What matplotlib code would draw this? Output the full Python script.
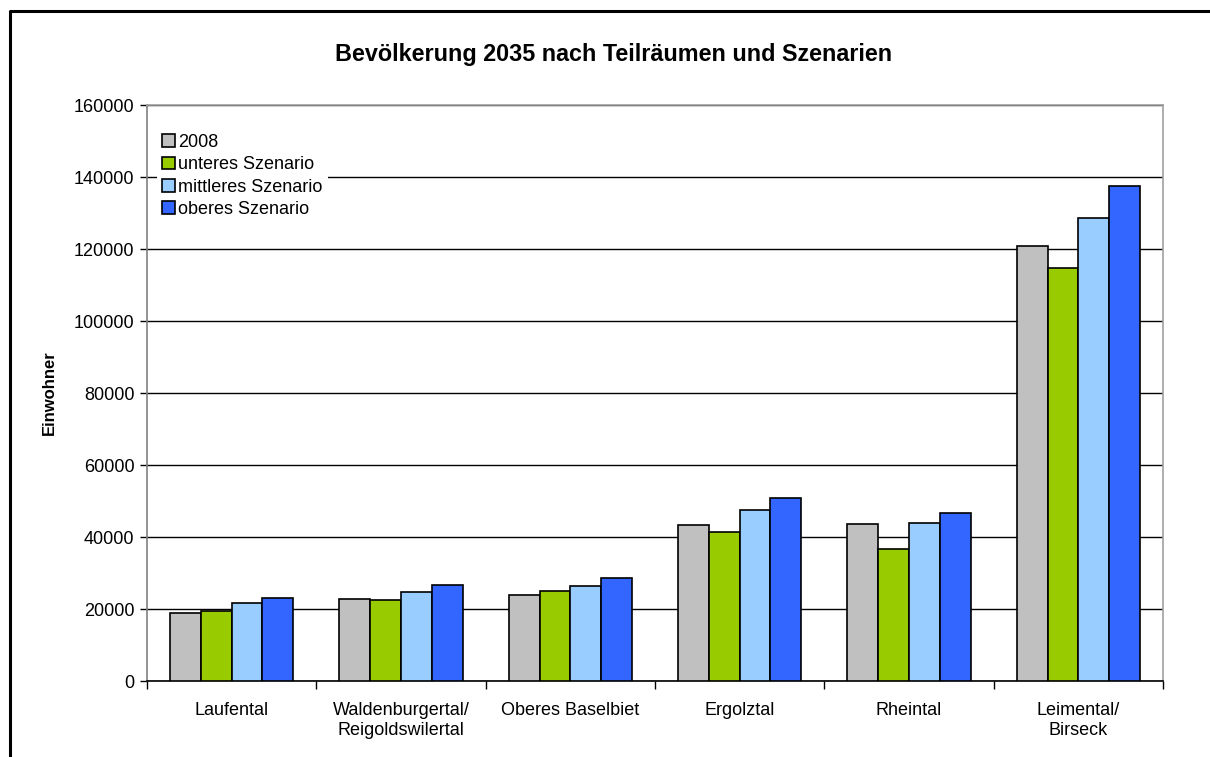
import numpy as np
import matplotlib
matplotlib.use("Agg")
import matplotlib.pyplot as plt
from matplotlib.lines import Line2D

plt.rcParams['font.family'] = ['Liberation Sans', 'DejaVu Sans']

# Daten
regions = ['Laufental', 'Waldenburgertal/\nReigoldswilertal', 'Oberes Baselbiet',
           'Ergolztal', 'Rheintal', 'Leimental/\nBirseck']
series_names = ['2008', 'unteres Szenario', 'mittleres Szenario', 'oberes Szenario']
pop_2008 = [18900, 22900, 23800, 43200, 43700, 120800]
pop_unteres = [19500, 22600, 24900, 41300, 36800, 114800]
pop_mittleres = [21600, 24600, 26300, 47600, 44000, 128600]
pop_oberes = [23000, 26700, 28700, 50700, 46700, 137400]
colors = ['#c0c0c0', '#99cc00', '#99ccff', '#3366ff']
yticks = [0, 20000, 40000, 60000, 80000, 100000, 120000, 140000, 160000]

W, H = 1210, 757
fig = plt.figure(figsize=(W / 100, H / 100), dpi=100)
ax = fig.add_axes([147 / W, 1 - 681 / H, (1163 - 147) / W, (681 - 105) / H])

x = np.arange(len(regions))
bw = 0.182
all_series = [pop_2008, pop_unteres, pop_mittleres, pop_oberes]
for i, (vals, name, c) in enumerate(zip(all_series, series_names, colors)):
    ax.bar(x + (i - 1.5) * bw, vals, width=bw, color=c, edgecolor='black',
           linewidth=1.2, label=name, zorder=3)

ax.set_xlim(-0.5, len(regions) - 0.5)
ax.set_ylim(0, 160000)
ax.set_yticks(yticks)
ax.set_yticklabels([str(v) for v in yticks], fontsize=13)
ax.yaxis.grid(True, color='black', linewidth=1.0, zorder=0)
ax.set_axisbelow(True)

ax.set_xticks(x)
ax.set_xticklabels(regions, fontsize=13, linespacing=1.25)
ax.tick_params(axis='x', length=0, pad=15)
ax.set_xticks(np.arange(-0.5, len(regions)), minor=True)
ax.tick_params(axis='x', which='minor', length=6, color='black', width=1)
ax.tick_params(axis='y', length=5, color='black', width=1, pad=4)

ax.spines['left'].set_color('#808080')
ax.spines['right'].set_color('#a0a0a0')
ax.spines['top'].set_color('#a0a0a0')
ax.spines['bottom'].set_color('black')
for s in ax.spines.values():
    s.set_linewidth(1.2)

ax.set_ylabel('Einwohner', fontsize=12, fontweight='bold', labelpad=12)
fig.text(614 / W, 1 - 55 / H, 'Bevölkerung 2035 nach Teilräumen und Szenarien',
         ha='center', va='center', fontsize=16.8, fontweight='bold')

leg = ax.legend(loc='upper left', bbox_to_anchor=(0.001, 0.975), frameon=True,
                fontsize=13, handlelength=0.7, handleheight=0.7,
                handletextpad=0.15, labelspacing=0.3, borderpad=0.3)
leg.get_frame().set_edgecolor('none')
leg.get_frame().set_facecolor('white')
leg.get_frame().set_alpha(1)
leg.set_zorder(5)

# Rahmen der Grafik (nur links und oben sichtbar)
fig.add_artist(Line2D([10 / W, 10 / W, 1.0], [0.0, 1 - 11 / H, 1 - 11 / H],
                      transform=fig.transFigure, color='black', linewidth=2.2))

fig.savefig('out.png', dpi=100)
